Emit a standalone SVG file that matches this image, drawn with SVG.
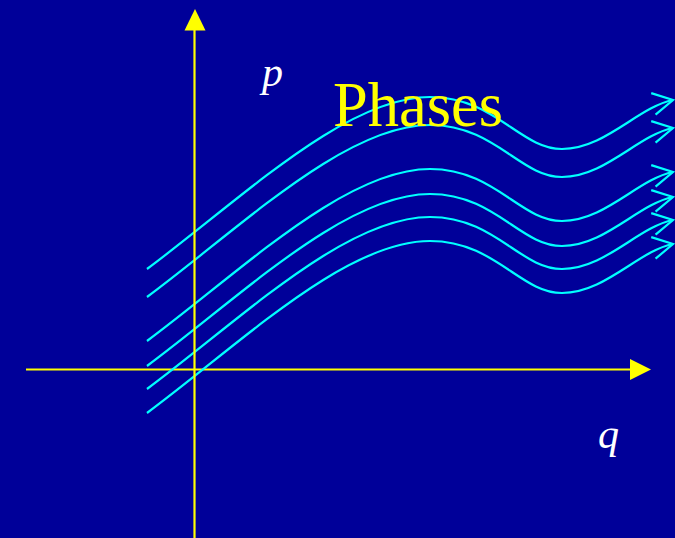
<svg xmlns="http://www.w3.org/2000/svg" width="675" height="538" viewBox="0 0 675 538">
  <style>
    .axis { stroke: #FFFF00; stroke-width: 2.2; fill: none; }
    .head { fill: #FFFF00; stroke: none; }
    .curve { stroke: #00FFFF; stroke-width: 2.2; fill: none; marker-end: url(#open); }
    .lbl { font-family: "Liberation Serif", "Times New Roman", serif; font-style: italic; fill: #FFFFFF; font-size: 42px; }
    .title { font-family: "Liberation Serif", "Times New Roman", serif; fill: #FFFF00; font-size: 63px; }
  </style>
  <defs>
    <marker id="open" markerUnits="userSpaceOnUse" markerWidth="30" markerHeight="30" viewBox="-25 -15 30 30" refX="0" refY="0" orient="auto" overflow="visible">
      <path d="M-20,-11 L0,0 L-20,11" fill="none" stroke="#00FFFF" stroke-width="2.2"/>
    </marker>
  </defs>
  <rect width="675" height="538" fill="#000099"/>
  <g id="q-axis">
    <line class="axis" x1="26" y1="369.5" x2="632" y2="369.5"/>
    <polygon class="head" points="651,369.5 630,359 630,380"/>
  </g>
  <g id="phases">
    <path class="curve" d="M147,269 C240,200 345,97 430,97 C495,97 520,149 562,149 C605,149 638,107 673,100"/>
    <path class="curve" transform="translate(0,28)" d="M147,269 C240,200 345,97 430,97 C495,97 520,149 562,149 C605,149 638,107 673,100"/>
    <path class="curve" transform="translate(0,72)" d="M147,269 C240,200 345,97 430,97 C495,97 520,149 562,149 C605,149 638,107 673,100"/>
    <path class="curve" transform="translate(0,97)" d="M147,269 C240,200 345,97 430,97 C495,97 520,149 562,149 C605,149 638,107 673,100"/>
    <path class="curve" transform="translate(0,120)" d="M147,269 C240,200 345,97 430,97 C495,97 520,149 562,149 C605,149 638,107 673,100"/>
    <path class="curve" transform="translate(0,144)" d="M147,269 C240,200 345,97 430,97 C495,97 520,149 562,149 C605,149 638,107 673,100"/>
  </g>
  <g id="p-axis">
    <line class="axis" x1="194.5" y1="538" x2="194.5" y2="28"/>
    <polygon class="head" points="195,9 184.5,30.5 205.5,30.5"/>
  </g>
  <g id="labels">
    <text class="lbl" x="262" y="86">p</text>
    <text class="lbl" x="598" y="448">q</text>
    <text class="title" x="333" y="126" textLength="170" lengthAdjust="spacingAndGlyphs">Phases</text>
  </g>
</svg>
